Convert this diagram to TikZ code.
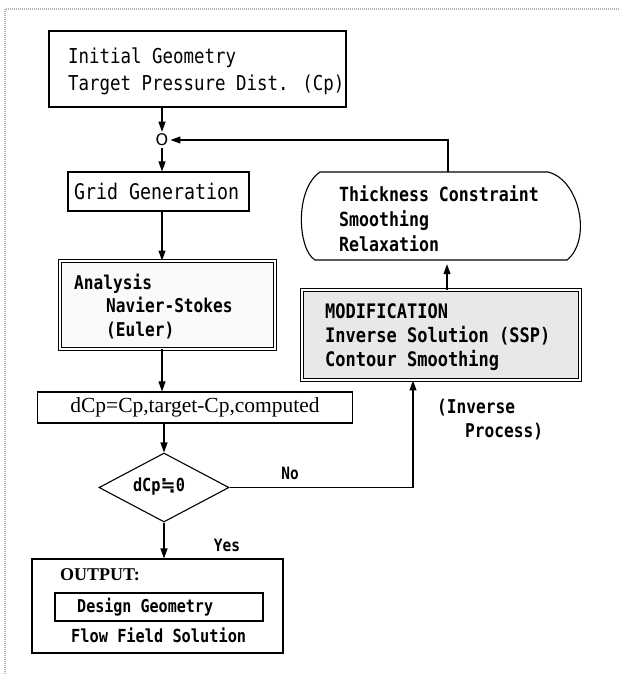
\documentclass[tikz,border=0pt]{standalone}
\usepackage{fontspec}
\usetikzlibrary{arrows.meta,shapes.geometric}
\newfontfamily\gm[FakeStretch=0.85]{DejaVu Sans Mono}
\newfontfamily\serf{Liberation Serif}
\newfontfamily\djs{DejaVu Sans}
\begin{document}
\begin{tikzpicture}[x=1pt,y=-1pt,
  box/.style={draw,line width=1.1pt,inner sep=0pt,fill=white},
  dbox/.style={draw,double,double distance=1.6pt,line width=0.9pt,inner sep=0pt},
  txt/.style={inner sep=0pt,align=left,anchor=west},
  arr/.style={line width=1.1pt,-{Triangle[length=10pt,width=7pt]}},
  lbl/.style={inner sep=0pt,font=\gm\bfseries\fontsize{17}{17}\selectfont}]
\useasboundingbox (0,0) rectangle (619,674);
\fill[white] (0,0) rectangle (619,674);
\draw[gray!60,line width=1.2pt,dash pattern=on 1pt off 1pt] (619,9) -- (5,9) -- (5,674);

% initial box
\node[box,minimum width=297pt,minimum height=76pt] (init) at (197.5,69) {};
\node[txt,font=\gm\fontsize{20.5}{27}\selectfont] (initT) at (68,71.5) {Initial Geometry\\Target Pressure Dist. (Cp)};

% junction
\node[inner sep=2pt,font=\djs\fontsize{16}{16}\selectfont] (circ) at (162,140) {O};

% grid generation
\node[box,minimum width=181pt,minimum height=39pt] (grid) at (158.5,191.5) {};
\node[txt,font=\gm\fontsize{21.5}{26}\selectfont] (gridT) at (74,191.5) {Grid Generation};

% analysis
\node[dbox,fill=gray!4,minimum width=215pt,minimum height=88pt] (ana) at (167.5,305) {};
\node[txt,font=\gm\bfseries\fontsize{19}{23.5}\selectfont] (anaT) at (74,306.5) {Analysis\\\hspace*{32pt}Navier-Stokes\\\hspace*{32pt}(Euler)};

% dCp
\node[box,minimum width=315pt,minimum height=31pt,font=\serf\fontsize{21.5}{22}\selectfont] (dcp) at (195,407.5) {dCp=Cp,target-Cp,computed};

% decision
\node[draw,diamond,line width=1.1pt,minimum width=130pt,minimum height=69pt,inner sep=0pt] (dia) at (164,487.5) {};
\node[inner sep=0pt,font=\gm\bfseries\fontsize{18}{18}\selectfont] (diaT) at (159,487) {dCp{\djs\bfseries ≒}0};
\node[lbl] (no) at (290,473) {No};
\node[lbl] (yes) at (227,545) {Yes};

% output
\node[box,minimum width=251pt,minimum height=94pt] (out) at (157.5,606) {};
\node[txt,font=\serf\bfseries\fontsize{18}{18}\selectfont] (outT) at (60,575) {OUTPUT:};
\node[box,minimum width=208pt,minimum height=28pt] (dg) at (159,607) {};
\node[txt,font=\gm\bfseries\fontsize{17.7}{18}\selectfont] (dgT) at (77,607) {Design Geometry};
\node[txt,font=\gm\bfseries\fontsize{18}{18}\selectfont] (ffs) at (71,635) {Flow Field Solution};

% modification
\node[dbox,fill=gray!18,minimum width=278pt,minimum height=90pt] (mod) at (441,335) {};
\node[txt,font=\gm\bfseries\fontsize{20}{24}\selectfont] (modT) at (325,337) {MODIFICATION\\Inverse Solution (SSP)\\Contour Smoothing};

% capsule
\node[minimum width=273pt,minimum height=88pt,inner sep=0pt] (caps) at (443.5,216) {};
\draw[line width=1.1pt] (320,172) -- (548,172) .. controls (580,180) and (592,240) .. (567,260)
  -- (315,260) .. controls (298,250) and (294,190) .. (320,172);
\node[txt,font=\gm\bfseries\fontsize{19.5}{25}\selectfont] (capsT) at (339,219) {Thickness Constraint\\Smoothing\\Relaxation};

% inverse process label
\node[txt,font=\gm\bfseries\fontsize{19}{24}\selectfont] (inv) at (437,420) {(Inverse\\\hspace*{28pt}Process)};

% connectors
\draw[arr] (circ.north |- init.south) -- (circ.north);
\draw[arr] (circ.south) -- (circ.south |- grid.north);
\draw[arr] (circ |- grid.south) -- (circ |- ana.north);
\draw[arr] (circ |- ana.south) -- (circ |- dcp.north);
\draw[arr] (dia.north |- dcp.south) -- (dia.north);
\draw[arr] (dia.south) -- (dia.south |- out.north);
\draw[arr] (dia.east) -| ([xshift=-28pt]mod.south);
\draw[arr,shorten >=4pt] ([xshift=6pt]mod.north) -- ([xshift=6pt]mod.north |- caps.south);
\draw[arr] ([xshift=4.5pt]caps.north) |- (circ.east);
\end{tikzpicture}
\end{document}
